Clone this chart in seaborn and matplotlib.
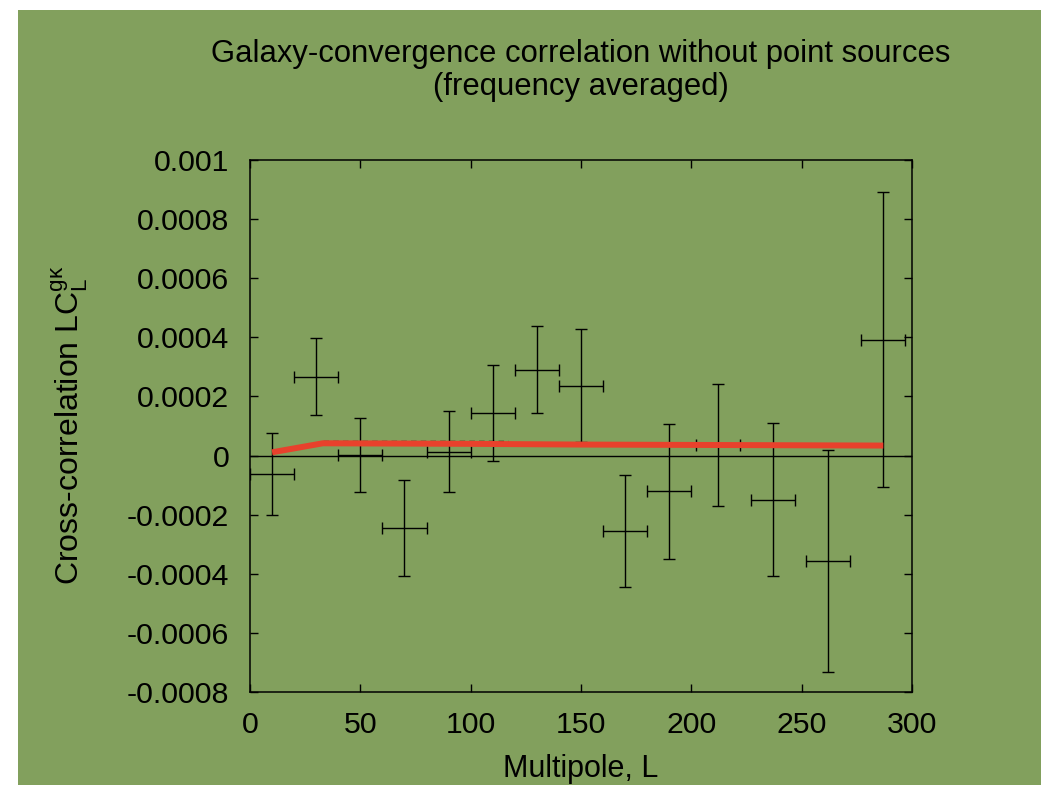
import matplotlib
matplotlib.use("Agg")
import matplotlib.pyplot as plt
from matplotlib.patches import Rectangle
import numpy as np
import pandas as pd
import seaborn as sns

# Binned galaxy-convergence cross-correlation measurements
multipole = [10, 30, 50, 70, 90, 110, 130, 150, 170, 190, 212, 237, 262, 287]
multipole_halfwidth = [10, 10, 10, 10, 10, 10, 10, 10, 10, 10, 10, 10, 10, 10]
cross_corr = [-0.000062, 0.000267, 0.000001, -0.000244, 0.0000135, 0.000144,
              0.00029, 0.000237, -0.000255, -0.000121, 0.000036, -0.000149,
              -0.000357, 0.000392]
cross_corr_err = [0.000138, 0.000131, 0.000125, 0.000162, 0.000137, 0.000164,
                  0.000147, 0.00019, 0.000189, 0.000229, 0.000205, 0.00026,
                  0.000375, 0.0005]

# Theoretical expectation (thick curve) and comparison curve (dashed)
model_L = [10, 33, 100, 150, 287]
model_value = [0.000011, 0.0000415, 0.0000396, 0.0000372, 0.0000338]
alt_L = [33, 117]
alt_value = [0.0000507, 0.0000507]

x_ticks = [0, 50, 100, 150, 200, 250, 300]
y_ticks = [-0.0008, -0.0006, -0.0004, -0.0002, 0, 0.0002, 0.0004, 0.0006, 0.0008, 0.001]
y_tick_labels = ["-0.0008", "-0.0006", "-0.0004", "-0.0002", "0",
                 "0.0002", "0.0004", "0.0006", "0.0008", "0.001"]

title_text = "Galaxy-convergence correlation without point sources\n(frequency averaged)"
xlabel_text = "Multipole, L"
ylabel_text = r"Cross-correlation LC$_\mathrm{L}^\mathrm{g\kappa}$"

GREEN = "#82a05d"
RED = "#e8412c"

sns.set_style("ticks")
plt.rcParams["font.family"] = ["Liberation Sans", "DejaVu Sans"]
plt.rcParams["mathtext.fontset"] = "custom"
plt.rcParams["mathtext.rm"] = "Liberation Sans"
plt.rcParams["mathtext.it"] = "Liberation Sans:italic"
plt.rcParams["axes.unicode_minus"] = False
plt.rcParams["text.color"] = "black"
plt.rcParams["axes.labelcolor"] = "black"

W, H = 1044, 785
fig = plt.figure(figsize=(W / 100, H / 100), dpi=100, facecolor="white")
fig.patches.append(Rectangle((18 / W, 0), (1041 - 18) / W, (H - 10) / H,
                             transform=fig.transFigure, facecolor=GREEN,
                             edgecolor="none", zorder=-10))

ax = fig.add_axes([250 / W, 1 - 692 / H, (912 - 250) / W, (692 - 160) / H])
ax.set_facecolor(GREEN)

# zero axis
ax.axhline(0, color="black", lw=1.0, zorder=1)

meas = pd.DataFrame({"L": multipole, "C": cross_corr})
ax.errorbar(meas["L"], meas["C"], yerr=cross_corr_err, xerr=multipole_halfwidth,
            fmt="none", ecolor="black", elinewidth=1.0, capsize=4, capthick=1.0,
            zorder=2)

alt = pd.DataFrame({"L": alt_L, "C": alt_value})
sns.lineplot(data=alt, x="L", y="C", ax=ax, color="black", lw=1.0,
             linestyle=(0, (4, 3)), zorder=3)

model = pd.DataFrame({"L": model_L, "C": model_value})
sns.lineplot(data=model, x="L", y="C", ax=ax, color=RED, lw=4.3, zorder=4,
             solid_capstyle="butt")

ax.set_xlim(0, 300)
ax.set_ylim(-0.0008, 0.001)
ax.set_xticks(x_ticks)
ax.set_xticklabels([str(t) for t in x_ticks])
ax.set_yticks(y_ticks)
ax.set_yticklabels(y_tick_labels)
ax.tick_params(direction="in", length=6, width=1.0, top=True, right=True,
               labelsize=21.8, pad=15, colors="black")
ax.tick_params(axis="x", pad=14)
for s in ax.spines.values():
    s.set_linewidth(1.1)
    s.set_color("black")
    s.set_visible(True)

ax.set_xlabel(xlabel_text, fontsize=22, color="black")
ax.xaxis.set_label_coords(0.5, -0.117)
ax.set_ylabel(ylabel_text, fontsize=23, color="black")
ax.yaxis.set_label_coords(-0.241, 0.502)

fig.text(581 / W, 1 - 70.5 / H, title_text, ha="center", va="center",
         multialignment="center", fontsize=22.3, linespacing=1.15, color="black")

fig.savefig("out.png", dpi=100, facecolor="white")
